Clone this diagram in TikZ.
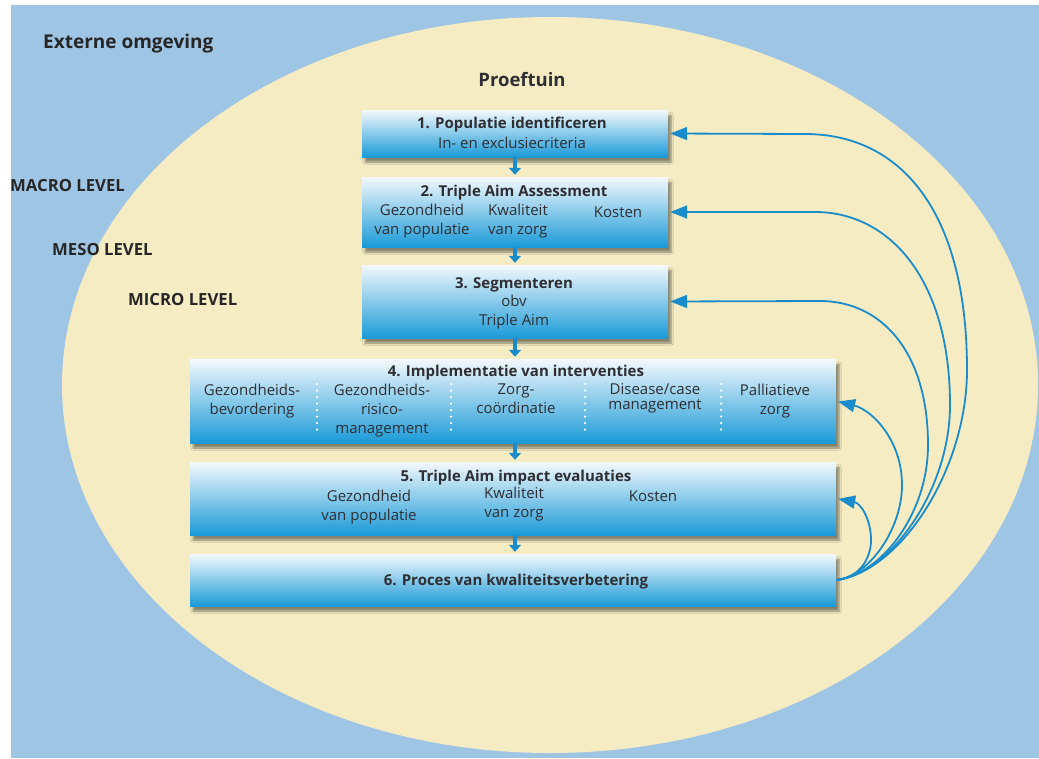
\documentclass[tikz,border=0pt]{standalone}
\usepackage{fontspec}
\setmainfont{Open Sans}
\usetikzlibrary{arrows.meta,shadows.blur}
\definecolor{extblue}{HTML}{9FC5E5}
\definecolor{tuinyellow}{HTML}{F5ECC3}
\definecolor{stepblue}{HTML}{1A9AD7}
\definecolor{steplight}{HTML}{F4F9FD}
\definecolor{arrowblue}{HTML}{1A8CCB}
\definecolor{textgrey}{HTML}{2E2E33}

\begin{document}
\begin{tikzpicture}[x=1pt,y=-1pt,
    stage/.style={rectangle, inner sep=0pt, top color=steplight, bottom color=stepblue,
        blur shadow={shadow xshift=3pt, shadow yshift=-5pt, shadow opacity=45, shadow blur steps=6}},
    title/.style={font=\bfseries\fontsize{15}{17}\selectfont, text=textgrey, inner sep=0pt},
    item/.style={font=\fontsize{15}{19}\selectfont, text=textgrey, align=center, inner sep=0pt},
    level/.style={font=\bfseries\fontsize{16.7}{18}\selectfont, anchor=west, text=black!85, inner sep=0pt},
    down/.style={arrowblue, line width=4.5pt, shorten >=2pt, -{Triangle[width=12pt,length=7pt]}},
    back/.style={arrowblue, line width=1.8pt, shorten >=2pt, -{Triangle[width=13pt,length=17pt]}},
    dots/.style={white, line width=2.5pt, line cap=round, dash pattern=on 0pt off 6.5pt}]
    \useasboundingbox (0,0) rectangle (1039,758);
    % background: external environment and the proeftuin
    \fill[extblue] (11,5) rectangle (1039,758);
    \fill[tuinyellow] (550,385) ellipse [x radius=488pt, y radius=368pt];

    \node[level, font=\bfseries\fontsize{19}{21}\selectfont] (ext) at (43,44) {Externe omgeving};
    \node[title, font=\bfseries\fontsize{18.5}{20}\selectfont] (tuin) at (522,80) {Proeftuin};
    \node[level] (macro) at (10,186) {MACRO LEVEL};
    \node[level] (meso) at (52,250) {MESO LEVEL};
    \node[level] (micro) at (128,300) {MICRO LEVEL};

    % the six steps
    \node[stage, minimum width=306pt, minimum height=47pt] (pop) at (515,133.5) {};
    \node[stage, minimum width=306pt, minimum height=70pt] (aim) at (515,212) {};
    \node[stage, minimum width=306pt, minimum height=73pt] (seg) at (515,301.5) {};
    \node[stage, minimum width=646pt, minimum height=84pt] (impl) at (513,401) {};
    \node[stage, minimum width=646pt, minimum height=73pt] (eval) at (513,498.5) {};
    \node[stage, minimum width=646pt, minimum height=52pt] (proc) at (513,580) {};

    \node[title] (popT) at (512,125) {1. Populatie identificeren};
    \node[item] (popS) at (512,143) {In- en exclusiecriteria};

    \node[title] (aimT) at (514,193) {2. Triple Aim Assessment};
    \node[item] (aimG) at (422,221) {Gezondheid\\van populatie};
    \node[item, align=left, anchor=west] (aimK) at (488,221) {Kwaliteit\\van zorg};
    \node[item] (aimC) at (618,212) {Kosten};

    \node[title] (segT) at (514,285) {3. Segmenteren};
    \node[item] (segS) at (514,312.5) {obv\\Triple Aim};

    \node[title] (implT) at (516,373) {4. Implementatie van interventies};
    \node[item, anchor=north] (bev) at (252,384) {Gezondheids-\\bevordering};
    \node[item, anchor=north] (risk) at (382,384) {Gezondheids-\\risico-\\management};
    \node[item, anchor=north] (coord) at (516,384) {Zorg-\\coördinatie};
    \node[item, anchor=north, font=\fontsize{15}{15.5}\selectfont] (dcm) at (655,383) {Disease/case\\management};
    \node[item, anchor=north] (pall) at (775,384) {Palliatieve\\zorg};
    \foreach \x in {317,451,585,721}
        \draw[dots] (\x,384) -- (\x,433);

    \node[title] (evalT) at (516,478) {5. Triple Aim impact evaluaties};
    \node[item] (evalG) at (369,507.5) {Gezondheid\\van populatie};
    \node[item] (evalK) at (514,504.5) {Kwaliteit\\van zorg};
    \node[item] (evalC) at (653,496) {Kosten};

    \node[title] (procT) at (516,582) {6. Proces van kwaliteitsverbetering};

    % flow downwards
    \draw[down] (pop.south) -- (aim.north);
    \draw[down] (aim.south) -- (seg.north);
    \draw[down] (seg.south) -- (seg.south |- impl.north);
    \draw[down] (seg.south |- impl.south) -- (seg.south |- eval.north);
    \draw[down] (seg.south |- eval.south) -- (seg.south |- proc.north);

    % feedback loops
    \draw[back] (proc.east) .. controls (900,572) and (967,470) .. (967,370)
        .. controls (967,210) and (900,134) .. (805,134) -- (pop.east);
    \draw[back] (proc.east) .. controls (890,574) and (950,490) .. (950,405)
        .. controls (950,280) and (890,212) .. (815,212) -- (aim.east);
    \draw[back] (proc.east) .. controls (880,575) and (928,515) .. (928,445)
        .. controls (928,350) and (880,301) .. (820,301) -- (seg.east);
    \draw[back] (proc.east) .. controls (868,577) and (902,530) .. (902,485)
        .. controls (902,440) and (872,410) .. (impl.east);
    \draw[back] (proc.east) .. controls (858,578) and (871,560) .. (871,540)
        .. controls (871,518) and (860,503) .. (eval.east);
\end{tikzpicture}
\end{document}
